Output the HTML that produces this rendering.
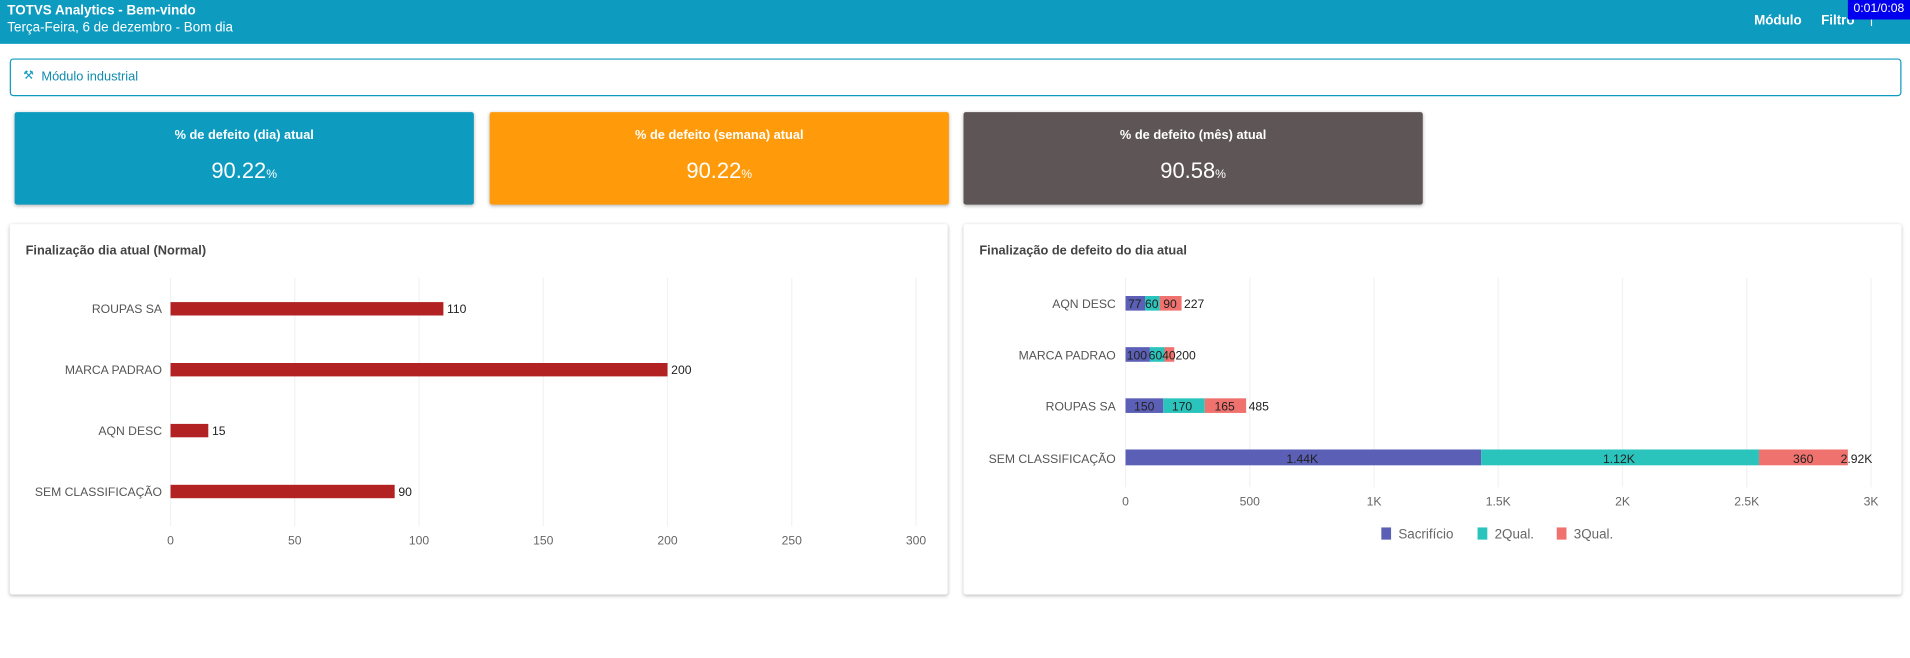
<!DOCTYPE html>
<html><head><meta charset="utf-8"><style>
html,body{margin:0;padding:0;width:1910px;height:658px;overflow:hidden;background:#fff}
#w{position:absolute;left:0;top:0;width:1568px;height:540px;transform:scale(1.21811);transform-origin:0 0;font-family:"Liberation Sans",sans-serif}
.hd{position:absolute;left:0;top:0;width:1568px;height:36px;background:#0e9bc0;color:#fff}
.card{position:absolute;top:92px;height:76px;width:377px;color:#fff;text-align:center;border-radius:2px;box-shadow:0 1px 3px rgba(0,0,0,.3)}
.card .t{position:absolute;top:13px;width:100%;font-size:10.5px;font-weight:bold}
.card .v{position:absolute;top:38px;width:100%;font-size:18px}
.card .v small{font-size:10px}
.pn{position:absolute;top:184px;height:304px;width:770px;background:#fff;box-shadow:0 1px 3px rgba(0,0,0,.25);border-radius:2px}
.pn .ti{position:absolute;left:13px;top:16px;font-size:10.5px;font-weight:bold;color:#444}
</style></head><body><div id="w">
<div class="hd">
<div style="position:absolute;left:6px;top:3px;font-size:11px;font-weight:bold">TOTVS Analytics - Bem-vindo</div>
<div style="position:absolute;left:6px;top:17px;font-size:11px">Terça-Feira, 6 de dezembro - Bom dia</div>
<div style="position:absolute;left:1440px;top:11px;font-size:11px;font-weight:bold">Módulo</div>
<div style="position:absolute;left:1495px;top:11px;font-size:11px;font-weight:bold">Filtro</div>
<div style="position:absolute;left:1535px;top:10px;font-size:11px">|</div>
<div style="position:absolute;left:1517px;top:0;width:51px;height:16px;background:#0000ee;color:#fff;font-size:10px;line-height:16px;text-align:center">0:01/0:08</div>
</div>
<div style="position:absolute;left:8px;top:48px;width:1551px;height:29px;border:1px solid #0e9bc0;border-radius:3px"></div>
<div style="position:absolute;left:19px;top:57px;font-size:10px;color:#0e9bc0">⚒</div>
<div style="position:absolute;left:34px;top:57px;font-size:10.5px;color:#0e8bb0">Módulo industrial</div>
<div class="card" style="left:12px;background:#0e9bc0"><div class="t">% de defeito (dia) atual</div><div class="v">90.22<small>%</small></div></div>
<div class="card" style="left:402px;background:#ff9b0a"><div class="t">% de defeito (semana) atual</div><div class="v">90.22<small>%</small></div></div>
<div class="card" style="left:791px;background:#5e5556"><div class="t">% de defeito (mês) atual</div><div class="v">90.58<small>%</small></div></div>
<div class="pn" style="left:8px"><div class="ti">Finalização dia atual (Normal)</div></div>
<div class="pn" style="left:791px"><div class="ti">Finalização de defeito do dia atual</div></div>
<svg style="position:absolute;left:0;top:0" width="1568" height="540" font-family="Liberation Sans, sans-serif" font-size="10">
<g stroke="#f2f2f2">
<line x1="140" y1="228" x2="140" y2="432"/><line x1="242" y1="228" x2="242" y2="432"/><line x1="344" y1="228" x2="344" y2="432"/><line x1="446" y1="228" x2="446" y2="432"/><line x1="548" y1="228" x2="548" y2="432"/><line x1="650" y1="228" x2="650" y2="432"/><line x1="752" y1="228" x2="752" y2="432"/>
<line x1="924" y1="228" x2="924" y2="400"/><line x1="1026" y1="228" x2="1026" y2="400"/><line x1="1128" y1="228" x2="1128" y2="400"/><line x1="1230" y1="228" x2="1230" y2="400"/><line x1="1332" y1="228" x2="1332" y2="400"/><line x1="1434" y1="228" x2="1434" y2="400"/><line x1="1536" y1="228" x2="1536" y2="400"/>
</g>
<g fill="#b22222">
<rect x="140" y="248" width="224" height="11"/><rect x="140" y="298" width="408" height="11"/><rect x="140" y="348" width="31" height="11"/><rect x="140" y="398" width="184" height="11"/>
</g>
<g fill="#555" text-anchor="end">
<text x="133" y="257">ROUPAS SA</text><text x="133" y="307">MARCA PADRAO</text><text x="133" y="357">AQN DESC</text><text x="133" y="407">SEM CLASSIFICAÇÃO</text>
<text x="916" y="253">AQN DESC</text><text x="916" y="295">MARCA PADRAO</text><text x="916" y="337">ROUPAS SA</text><text x="916" y="380">SEM CLASSIFICAÇÃO</text>
</g>
<g fill="#222"><text x="367" y="257">110</text><text x="551" y="307">200</text><text x="174" y="357">15</text><text x="327" y="407">90</text></g>
<g fill="#666" text-anchor="middle">
<text x="140" y="447">0</text><text x="242" y="447">50</text><text x="344" y="447">100</text><text x="446" y="447">150</text><text x="548" y="447">200</text><text x="650" y="447">250</text><text x="752" y="447">300</text>
<text x="924" y="415">0</text><text x="1026" y="415">500</text><text x="1128" y="415">1K</text><text x="1230" y="415">1.5K</text><text x="1332" y="415">2K</text><text x="1434" y="415">2.5K</text><text x="1536" y="415">3K</text>
</g>
<rect x="924" y="243" width="16" height="12" fill="#5b5fb5"/><rect x="940" y="243" width="12" height="12" fill="#2ac4bd"/><rect x="952" y="243" width="18" height="12" fill="#f0726e"/>
<rect x="924" y="285" width="20" height="12" fill="#5b5fb5"/><rect x="944" y="285" width="12" height="12" fill="#2ac4bd"/><rect x="956" y="285" width="8" height="12" fill="#f0726e"/>
<rect x="924" y="327" width="31" height="12" fill="#5b5fb5"/><rect x="955" y="327" width="34" height="12" fill="#2ac4bd"/><rect x="989" y="327" width="34" height="12" fill="#f0726e"/>
<rect x="924" y="369" width="292" height="13" fill="#5b5fb5"/><rect x="1216" y="369" width="228" height="13" fill="#2ac4bd"/><rect x="1444" y="369" width="73" height="13" fill="#f0726e"/>
<g fill="#222">
<text x="926" y="253">77</text><text x="940" y="253">60</text><text x="955" y="253">90</text><text x="972" y="253">227</text>
<text x="925" y="295">100</text><text x="943" y="295">60</text><text x="954" y="295">40</text><text x="965" y="295">200</text>
<text x="931" y="337">150</text><text x="962" y="337">170</text><text x="997" y="337">165</text><text x="1025" y="337">485</text>
<text x="1056" y="380">1.44K</text><text x="1316" y="380">1.12K</text><text x="1472" y="380">360</text><text x="1511" y="380">2.92K</text>
</g>
<rect x="1134" y="433" width="8" height="10" fill="#5b5fb5"/><text x="1148" y="442" fill="#666" font-size="11">Sacrifício</text>
<rect x="1213" y="433" width="8" height="10" fill="#2ac4bd"/><text x="1227" y="442" fill="#666" font-size="11">2Qual.</text>
<rect x="1278" y="433" width="8" height="10" fill="#f0726e"/><text x="1292" y="442" fill="#666" font-size="11">3Qual.</text>
</svg>
</div></body></html>
